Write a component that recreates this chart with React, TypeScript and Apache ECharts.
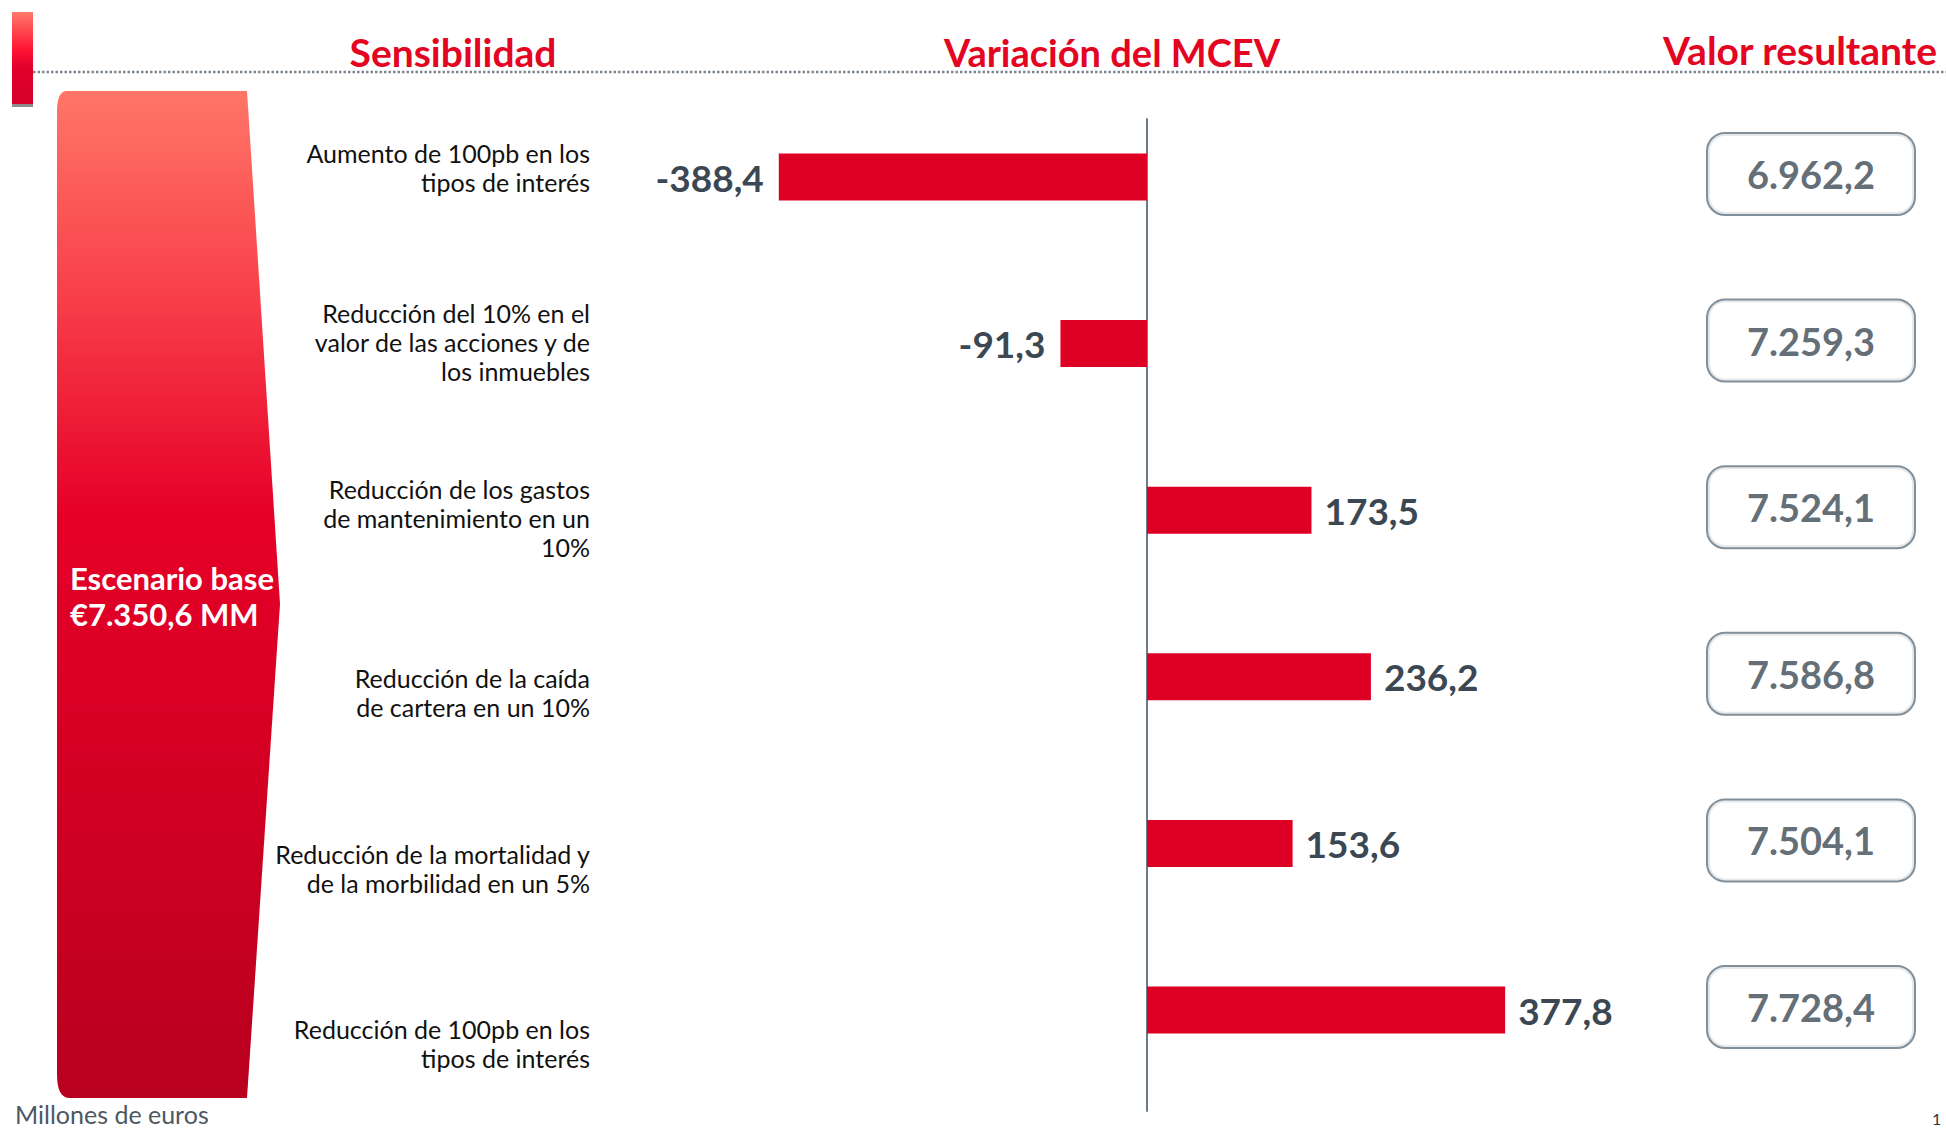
import React, { useEffect, useRef } from "react";
import * as echarts from "echarts";

const categories = [
  "Aumento de 100pb en los\ntipos de interés",
  "Reducción del 10% en el\nvalor de las acciones y de\nlos inmuebles",
  "Reducción de los gastos\nde mantenimiento en un\n10%",
  "Reducción de la caída\nde cartera en un 10%",
  "Reducción de la mortalidad y\nde la morbilidad en un 5%",
  "Reducción de 100pb en los\ntipos de interés",
];
const variation = [-388.4, -91.3, 173.5, 236.2, 153.6, 377.8];
const resultValues = [6962.2, 7259.3, 7524.1, 7586.8, 7504.1, 7728.4];
const baseValue = 7350.6;
const titles = ["Sensibilidad", "Variación del MCEV", "Valor resultante"];
const baseLabel = "Escenario base";
const unitNote = "Millones de euros";
const pageNumber = "1";

const fmt = (v: number): string => {
  const neg = v < 0;
  const [i, d] = Math.abs(v).toFixed(1).split(".");
  const ii = i.replace(/\B(?=(\d{3})+(?!\d))/g, ".");
  return (neg ? "-" : "") + ii + "," + d;
};

const FONT = "Lato, 'Noto Sans', sans-serif";
const RED = "#e30521";
const BAR = "#de0024";
const DARK = "#3b4752";

const funnelD =
  "M57,112 C57,98 60,91 67,91 L247,91 L280,604 L247,1098 L70,1098 C61,1098 57,1090 57,1074 Z";

let registered = false;

export default function App() {
  const ref = useRef<HTMLDivElement>(null);
  useEffect(() => {
    document.body.style.margin = "0";
    document.body.style.overflow = "hidden";
    if (!registered) {
      echarts.graphic.registerShape("funnelShape", echarts.graphic.extendPath(funnelD, {}) as any);
      registered = true;
    }
    const chart = echarts.init(ref.current!, null, { renderer: "svg" });

    const barTop = 93.7;
    const barHeight = 999.6;
    const gridLeft = 673;
    const gridWidth = 948;

    const option: any = {
      animation: false,
      backgroundColor: "#ffffff",
      grid: [
        { left: gridLeft, width: gridWidth, top: barTop, height: barHeight },
        { left: 600, width: 40, top: 79.5, height: 1055.4 },
        { left: 1700, width: 222, top: barTop, height: barHeight },
        { left: gridLeft, width: gridWidth, top: 119, height: 992 },
      ],
      xAxis: [
        { type: "value", gridIndex: 0, min: -500, max: 500, show: false },
        { type: "value", gridIndex: 1, min: 0, max: 1, show: false },
        { type: "value", gridIndex: 2, min: 0, max: 1, show: false },
        { type: "value", gridIndex: 3, min: -500, max: 500, show: false },
      ],
      yAxis: [
        {
          type: "category",
          gridIndex: 0,
          data: categories,
          inverse: true,
          axisLine: { show: false },
          axisTick: { show: false },
          axisLabel: { show: false },
        },
        {
          type: "category",
          gridIndex: 1,
          data: categories,
          inverse: true,
          position: "left",
          axisLine: { show: false },
          axisTick: { show: false },
          axisLabel: {
            show: true,
            margin: 10,
            align: "right",
            fontFamily: FONT,
            fontSize: 25,
            lineHeight: 29,
            color: "#111111",
          },
        },
        {
          type: "category",
          gridIndex: 2,
          data: categories,
          inverse: true,
          show: false,
        },
        {
          type: "category",
          gridIndex: 3,
          data: categories,
          inverse: true,
          axisLine: { show: true, onZero: true, lineStyle: { color: "#6d7b87", width: 2 } },
          axisTick: { show: false },
          axisLabel: { show: false },
        },
      ],
      series: [
        {
          type: "bar",
          xAxisIndex: 0,
          yAxisIndex: 0,
          barWidth: 47,
          itemStyle: { color: BAR },
          data: variation.map((v) => ({
            value: v,
            label: {
              show: true,
              position: v < 0 ? "left" : "right",
              distance: v < 0 ? 15 : 13,
              formatter: (p: any) => fmt(p.value),
              fontFamily: FONT,
              fontWeight: "bold",
              fontSize: 37,
              color: DARK,
            },
          })),
        },
        {
          type: "scatter",
          xAxisIndex: 2,
          yAxisIndex: 2,
          symbolSize: 1,
          itemStyle: { color: "transparent" },
          data: resultValues.map((v, i) => [0.5, i, v]),
          label: {
            show: true,
            position: "inside",
            offset: [0, -3],
            formatter: (p: any) => fmt(p.value[2]),
            fontFamily: FONT,
            fontWeight: "bold",
            fontSize: 38,
            color: DARK,
            backgroundColor: "#ffffff",
            borderColor: "#627381",
            borderWidth: 2,
            borderRadius: 17,
            width: 206,
            height: 80,
            lineHeight: 80,
            align: "center",
            verticalAlign: "middle",
          },
        },
      ],
      graphic: [
        {
          type: "rect",
          shape: { x: 12, y: 12, width: 21, height: 94 },
          style: {
            fill: new echarts.graphic.LinearGradient(0, 0, 0, 1, [
              { offset: 0, color: "#ff7a6a" },
              { offset: 0.4, color: "#ff1434" },
              { offset: 0.6, color: "#e0002a" },
              { offset: 1, color: "#d6002a" },
            ]),
          },
        },
        {
          type: "rect",
          shape: { x: 12, y: 104, width: 21, height: 3 },
          style: { fill: "#8c8c8c" },
        },
        {
          type: "line",
          shape: { x1: 33, y1: 72, x2: 1946, y2: 72 },
          style: { stroke: "#7b8893", lineWidth: 2.5, lineDash: [2.5, 2] },
        },
        {
          type: "funnelShape",
          x: 0,
          y: 0,
          style: {
            fill: new echarts.graphic.LinearGradient(0, 0, 0, 1, [
              { offset: 0, color: "#ff7668" },
              { offset: 0.2, color: "#f8404a" },
              { offset: 0.42, color: "#e60028" },
              { offset: 0.7, color: "#d20022" },
              { offset: 1, color: "#b8001f" },
            ]),
          },
        },
        {
          type: "text",
          x: 70,
          y: 596,
          style: {
            text: baseLabel + "\n€" + fmt(baseValue) + " MM",
            fill: "#ffffff",
            font: `bold 31px ${FONT}`,
            lineHeight: 36,
            verticalAlign: "middle",
            align: "left",
          },
        },
        {
          type: "text",
          x: 453,
          y: 52,
          style: { text: titles[0], fill: RED, font: `bold 39px ${FONT}`, align: "center", verticalAlign: "middle" },
        },
        {
          type: "text",
          x: 1112,
          y: 52,
          style: { text: titles[1], fill: RED, font: `bold 38px ${FONT}`, align: "center", verticalAlign: "middle" },
        },
        {
          type: "text",
          x: 1800,
          y: 50,
          style: { text: titles[2], fill: RED, font: `bold 39px ${FONT}`, align: "center", verticalAlign: "middle" },
        },
        {
          type: "text",
          x: 15,
          y: 1114,
          style: { text: unitNote, fill: "#4d5863", font: `25px ${FONT}`, align: "left", verticalAlign: "middle" },
        },
        {
          type: "text",
          x: 1932,
          y: 1110,
          style: { text: pageNumber, fill: "#333333", font: `16px ${FONT}`, align: "left", verticalAlign: "top" },
        },
      ],
    };
    chart.setOption(option);
    return () => chart.dispose();
  }, []);
  return <div ref={ref} style={{ width: 1946, height: 1131, position: "absolute", left: 0, top: 0 }} />;
}
